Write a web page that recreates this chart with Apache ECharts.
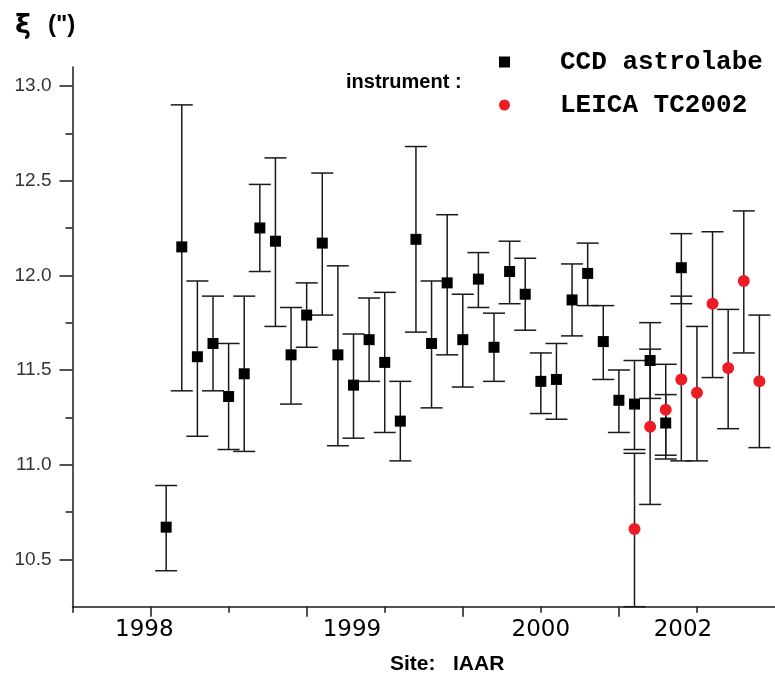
<!DOCTYPE html>
<html><head><meta charset="utf-8">
<script src="https://cdn.jsdelivr.net/npm/echarts@6/dist/echarts.min.js"></script>
<style>html,body{margin:0;padding:0;background:#fff}#c{width:775px;height:679px}</style>
</head><body><div id="c"></div>
<script>
// CCD astrolabe (black squares)
const ccdIndex = [1,2,3,4,5,6,7,8,9,10,11,12,13,14,15,16,17,18,19,20,21,22,23,24,25,26,27,28,29,30,31,32,33,34];
const ccdValue = [10.67,12.15,11.57,11.64,11.36,11.48,12.25,12.18,11.58,11.79,12.17,11.58,11.42,11.66,11.54,11.23,12.19,11.64,11.96,11.66,11.98,11.62,12.02,11.90,11.44,11.45,11.87,12.01,11.65,11.34,11.32,11.55,11.22,12.04];
const ccdHigh  = [10.89,12.90,11.97,11.89,11.64,11.89,12.48,12.62,11.83,11.96,12.54,12.05,11.69,11.88,11.91,11.44,12.68,11.97,12.32,11.90,12.12,11.80,12.18,12.09,11.59,11.64,12.06,12.17,11.84,11.50,11.55,11.75,11.37,12.22];
const ccdLow   = [10.44,11.39,11.15,11.39,11.08,11.07,12.02,11.73,11.32,11.62,11.79,11.10,11.14,11.44,11.17,11.02,11.70,11.30,11.58,11.41,11.83,11.44,11.85,11.71,11.27,11.24,11.68,11.84,11.45,11.17,11.08,11.35,11.05,11.85];
// LEICA TC2002 (red dots)
const leicaIndex = [31,32,33,34,35,36,37,38,39];
const leicaValue = [10.66,11.20,11.29,11.45,11.38,11.85,11.51,11.97,11.44];
const leicaHigh  = [11.06,11.61,11.53,11.89,11.73,12.23,11.82,12.34,11.79];
const leicaLow   = [10.25,10.79,11.03,11.02,11.02,11.46,11.19,11.59,11.09];
// axes
const yMajorTicks = [10.5,11.0,11.5,12.0,12.5,13.0];
const yMinorTicks = [10.75,11.25,11.75,12.25,12.75];
const xMajorTicks = [0,10,20,30];
const xMinorTicks = [-5,5,15,25,35];
const xLabelPos  = [-0.4,12.9,25,34.1];
const xLabelText = ['1998','1999','2000','2002'];

const chart = echarts.init(document.getElementById('c'), null, {renderer:'canvas'});
const AX = '#1a1a1a';
function errRender(params, api) {
  const x = api.value(0);
  const lo = api.coord([x, api.value(1)]);
  const hi = api.coord([x, api.value(2)]);
  const w = 11;
  const style = {stroke: AX, lineWidth: 1.5};
  return {type:'group', children:[
    {type:'line', shape:{x1:lo[0],y1:lo[1],x2:hi[0],y2:hi[1]}, style:style},
    {type:'line', shape:{x1:lo[0]-w,y1:lo[1],x2:lo[0]+w,y2:lo[1]}, style:style},
    {type:'line', shape:{x1:hi[0]-w,y1:hi[1],x2:hi[0]+w,y2:hi[1]}, style:style}
  ]};
}
const ccdErr = ccdIndex.map((x,i)=>[x, ccdLow[i], ccdHigh[i]]);
const leicaErr = leicaIndex.map((x,i)=>[x, leicaLow[i], leicaHigh[i]]);

chart.setOption({
  animation:false,
  backgroundColor:'#fff',
  title:{text:'{a|ξ}{s|}{b|(")}', left:10, top:7,
    textStyle:{rich:{
      a:{fontFamily:'DejaVu Sans', fontWeight:'bold', fontSize:27, color:'#000'},
      s:{width:17},
      b:{fontFamily:'Liberation Sans', fontWeight:'bold', fontSize:24, color:'#000'}
    }}},
  legend:{
    orient:'vertical', left:494, top:44, itemWidth:11, itemHeight:11, itemGap:17,
    selectedMode:false,
    textStyle:{fontFamily:'Liberation Mono', fontWeight:'bold', fontSize:26, color:'#000', padding:[0,0,0,45], lineHeight:26},
    data:[{name:'CCD astrolabe', icon:'rect'},{name:'LEICA TC2002', icon:'circle'}]
  },
  graphic:[
    {type:'text', left:346, top:72, style:{text:'instrument :', font:'bold 20px "Liberation Sans"', fill:'#000'}},
    {type:'text', left:390, top:654, style:{text:'Site:   IAAR', font:'bold 21px "Liberation Sans"', fill:'#000'}}
  ],
  grid:{left:72.5, right:-5.4, top:67, bottom:72.3, containLabel:false},
  xAxis:[
    {type:'value', min:-5, max:40, position:'bottom',
     axisLine:{show:true, onZero:false, lineStyle:{color:AX, width:1.5}},
     axisTick:{show:true, length:6, customValues:xMinorTicks, lineStyle:{color:AX, width:1.5}},
     axisLabel:{show:false}, splitLine:{show:false}},
    {type:'value', min:-5, max:40, position:'bottom',
     axisLine:{show:false, onZero:false},
     axisTick:{show:true, length:10, customValues:xMajorTicks, lineStyle:{color:AX, width:1.5}},
     axisLabel:{show:true, customValues:xLabelPos, margin:12, fontFamily:'DejaVu Sans', fontSize:23, color:'#000',
       formatter:function(v){ const i = xLabelPos.findIndex(p=>Math.abs(p-v)<1e-6); return i>=0 ? xLabelText[i] : ''; }},
     splitLine:{show:false}}
  ],
  yAxis:[
    {type:'value', min:10.25, max:13.1, position:'left',
     axisLine:{show:true, onZero:false, lineStyle:{color:AX, width:1.5}},
     axisTick:{show:true, length:7, customValues:yMinorTicks, lineStyle:{color:AX, width:1.5}},
     axisLabel:{show:false}, splitLine:{show:false}},
    {type:'value', min:10.25, max:13.1, position:'left',
     axisLine:{show:false, onZero:false},
     axisTick:{show:true, length:13, customValues:yMajorTicks, lineStyle:{color:AX, width:1.5}},
     axisLabel:{show:true, customValues:yMajorTicks, margin:21, fontFamily:'Liberation Sans', fontSize:19, color:'#333',
       formatter:function(v){ return v.toFixed(1); }},
     splitLine:{show:false}}
  ],
  series:[
    {name:'ccdErr', type:'custom', renderItem:errRender, data:ccdErr, encode:{x:0, y:[1,2]}, xAxisIndex:0, yAxisIndex:0, z:2, silent:true},
    {name:'leicaErr', type:'custom', renderItem:errRender, data:leicaErr, encode:{x:0, y:[1,2]}, xAxisIndex:0, yAxisIndex:0, z:2, silent:true},
    {name:'CCD astrolabe', type:'scatter', symbol:'rect', symbolSize:11, itemStyle:{color:'#000', opacity:1},
     data:ccdIndex.map((x,i)=>[x, ccdValue[i]]), xAxisIndex:0, yAxisIndex:0, z:3},
    {name:'LEICA TC2002', type:'scatter', symbol:'circle', symbolSize:12, itemStyle:{color:'#ec1c24', opacity:1},
     data:leicaIndex.map((x,i)=>[x, leicaValue[i]]), xAxisIndex:0, yAxisIndex:0, z:4}
  ]
});
</script></body></html>
